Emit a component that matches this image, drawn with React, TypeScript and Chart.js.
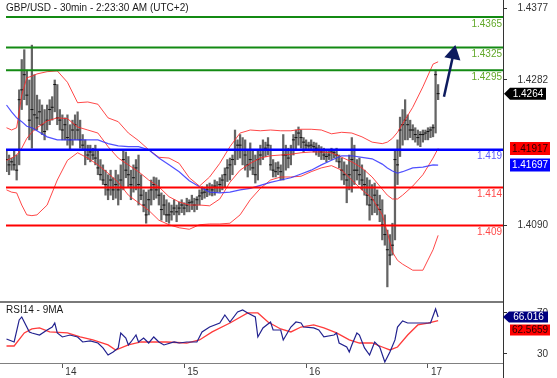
import { useEffect, useRef } from 'react';
import { Chart, registerables } from 'chart.js';

Chart.register(...registerables);

const FONT = '"Liberation Sans", Arial, sans-serif';

const TITLE = 'GBP/USD - 30min - 2:23:30 AM (UTC+2)';
const RSI_TITLE = 'RSI14 - 9MA';

// x axis: 30-minute bar index; day labels at first bar of each day
const dayLabels = ['14', '15', '16', '17'];
const dayStartBars = [22, 70, 118, 166];
const X_MIN = -0.2;
const X_MAX = 195.55;

const priceTicks = [1.4377, 1.4282, 1.409];
const rsiTicks = [30, 70];
const PRICE_MIN = 1.398905;
const PRICE_MAX = 1.438756;
const RSI_MIN = 21.2;
const RSI_MAX = 80.7;

// OHLC bars (high / low / close)
const highs = [
  1.4190, 1.4183, 1.4179, 1.4190, 1.4183, 1.4269, 1.4309, 1.4322, 1.4295, 1.4282,
  1.4328, 1.4289, 1.4262, 1.4256, 1.4249, 1.4243, 1.4249, 1.4256, 1.4260, 1.4282,
  1.4276, 1.4243, 1.4236, 1.4232, 1.4236, 1.4223, 1.4229, 1.4236, 1.4240, 1.4229,
  1.4210, 1.4203, 1.4196, 1.4196, 1.4192, 1.4196, 1.4190, 1.4177, 1.4170, 1.4163,
  1.4157, 1.4163, 1.4153, 1.4163, 1.4157, 1.4170, 1.4190, 1.4187, 1.4181, 1.4163,
  1.4170, 1.4177, 1.4183, 1.4157, 1.4137, 1.4134, 1.4137, 1.4150, 1.4154, 1.4153,
  1.4150, 1.4133, 1.4130, 1.4124, 1.4120, 1.4117, 1.4124, 1.4117, 1.4121, 1.4124,
  1.4120, 1.4126, 1.4124, 1.4130, 1.4126, 1.4128, 1.4137, 1.4141, 1.4140, 1.4144,
  1.4146, 1.4144, 1.4150, 1.4148, 1.4153, 1.4157, 1.4166, 1.4177, 1.4179, 1.4183,
  1.4216, 1.4203, 1.4210, 1.4206, 1.4203, 1.4190, 1.4199, 1.4190, 1.4183, 1.4190,
  1.4196, 1.4203, 1.4200, 1.4206, 1.4196, 1.4177, 1.4173, 1.4174, 1.4170, 1.4210,
  1.4196, 1.4192, 1.4196, 1.4210, 1.4216, 1.4220, 1.4216, 1.4206, 1.4203, 1.4200,
  1.4203, 1.4200, 1.4199, 1.4196, 1.4194, 1.4192, 1.4190, 1.4190, 1.4192, 1.4190,
  1.4192, 1.4183, 1.4179, 1.4174, 1.4170, 1.4183, 1.4206, 1.4196, 1.4177, 1.4179,
  1.4170, 1.4163, 1.4153, 1.4150, 1.4144, 1.4146, 1.4137, 1.4130, 1.4124, 1.4104,
  1.4084, 1.4078, 1.4093, 1.4190, 1.4203, 1.4233, 1.4243, 1.4256, 1.4236, 1.4229,
  1.4223, 1.4219, 1.4216, 1.4214, 1.4216, 1.4216, 1.4219, 1.4220, 1.4223, 1.4295,
  1.4276,
];
const lows = [
  1.4161, 1.4157, 1.4163, 1.4163, 1.4150, 1.4170, 1.4243, 1.4256, 1.4249, 1.4203,
  1.4192, 1.4216, 1.4216, 1.4223, 1.4210, 1.4203, 1.4216, 1.4223, 1.4229, 1.4240,
  1.4223, 1.4216, 1.4203, 1.4203, 1.4196, 1.4190, 1.4196, 1.4203, 1.4203, 1.4192,
  1.4190, 1.4170, 1.4177, 1.4174, 1.4177, 1.4170, 1.4157, 1.4150, 1.4144, 1.4130,
  1.4124, 1.4130, 1.4124, 1.4126, 1.4117, 1.4124, 1.4137, 1.4153, 1.4141, 1.4124,
  1.4134, 1.4137, 1.4117, 1.4124, 1.4108, 1.4093, 1.4104, 1.4117, 1.4124, 1.4126,
  1.4117, 1.4097, 1.4104, 1.4095, 1.4093, 1.4097, 1.4104, 1.4095, 1.4104, 1.4107,
  1.4104, 1.4108, 1.4108, 1.4111, 1.4108, 1.4111, 1.4117, 1.4124, 1.4126, 1.4128,
  1.4130, 1.4129, 1.4130, 1.4134, 1.4134, 1.4137, 1.4141, 1.4148, 1.4150, 1.4157,
  1.4170, 1.4177, 1.4179, 1.4170, 1.4163, 1.4154, 1.4163, 1.4157, 1.4146, 1.4150,
  1.4170, 1.4177, 1.4181, 1.4183, 1.4163, 1.4154, 1.4154, 1.4157, 1.4150, 1.4150,
  1.4163, 1.4166, 1.4170, 1.4183, 1.4190, 1.4196, 1.4192, 1.4187, 1.4190, 1.4190,
  1.4190, 1.4187, 1.4183, 1.4181, 1.4177, 1.4177, 1.4174, 1.4177, 1.4177, 1.4179,
  1.4174, 1.4166, 1.4150, 1.4144, 1.4120, 1.4137, 1.4134, 1.4144, 1.4150, 1.4144,
  1.4137, 1.4130, 1.4117, 1.4097, 1.4104, 1.4107, 1.4104, 1.4095, 1.4071, 1.4064,
  1.4009, 1.4038, 1.4051, 1.4071, 1.4144, 1.4181, 1.4196, 1.4203, 1.4203, 1.4206,
  1.4203, 1.4200, 1.4196, 1.4194, 1.4200, 1.4203, 1.4203, 1.4206, 1.4207, 1.4212,
  1.4256,
];
const closes = [
  1.4177, 1.4170, 1.4174, 1.4170, 1.4163, 1.4256, 1.4269, 1.4289, 1.4262, 1.4229,
  1.4243, 1.4236, 1.4232, 1.4240, 1.4223, 1.4214, 1.4229, 1.4243, 1.4246, 1.4276,
  1.4232, 1.4229, 1.4216, 1.4223, 1.4206, 1.4203, 1.4216, 1.4223, 1.4216, 1.4203,
  1.4196, 1.4190, 1.4183, 1.4187, 1.4183, 1.4179, 1.4166, 1.4157, 1.4150, 1.4144,
  1.4137, 1.4150, 1.4137, 1.4144, 1.4137, 1.4150, 1.4177, 1.4163, 1.4157, 1.4144,
  1.4153, 1.4166, 1.4144, 1.4130, 1.4117, 1.4104, 1.4124, 1.4137, 1.4144, 1.4137,
  1.4130, 1.4111, 1.4117, 1.4104, 1.4104, 1.4108, 1.4113, 1.4108, 1.4113, 1.4117,
  1.4113, 1.4117, 1.4120, 1.4121, 1.4117, 1.4124, 1.4129, 1.4133, 1.4134, 1.4137,
  1.4140, 1.4137, 1.4142, 1.4140, 1.4144, 1.4150, 1.4157, 1.4166, 1.4170, 1.4177,
  1.4190, 1.4196, 1.4196, 1.4190, 1.4183, 1.4170, 1.4177, 1.4166, 1.4157, 1.4177,
  1.4183, 1.4190, 1.4192, 1.4196, 1.4170, 1.4163, 1.4161, 1.4166, 1.4161, 1.4183,
  1.4183, 1.4179, 1.4190, 1.4203, 1.4206, 1.4212, 1.4206, 1.4200, 1.4196, 1.4195,
  1.4196, 1.4194, 1.4192, 1.4190, 1.4187, 1.4183, 1.4181, 1.4183, 1.4187, 1.4186,
  1.4183, 1.4174, 1.4163, 1.4157, 1.4150, 1.4157, 1.4177, 1.4163, 1.4163, 1.4157,
  1.4150, 1.4144, 1.4130, 1.4117, 1.4124, 1.4130, 1.4117, 1.4111, 1.4091, 1.4078,
  1.4058, 1.4051, 1.4064, 1.4177, 1.4170, 1.4216, 1.4223, 1.4229, 1.4223, 1.4216,
  1.4216, 1.4210, 1.4206, 1.4210, 1.4210, 1.4212, 1.4214, 1.4216, 1.4219, 1.4289,
  1.4264,
];

// Bollinger bands and moving average, sampled at bar indices
const bandIdx = [
  0, 2, 4, 6, 8, 10, 12, 16, 20, 24, 28, 32, 36, 40, 44, 48, 52, 56, 60, 64,
  68, 72, 76, 80, 84, 88, 92, 96, 100, 104, 108, 112, 116, 120, 124, 128, 132, 136, 140, 144,
  148, 150, 152, 154, 156, 160, 164, 168, 170,
];
const bandUpper = [
  1.4219, 1.4216, 1.4219, 1.4262, 1.4285, 1.4287, 1.4290, 1.4293, 1.4294, 1.4279,
  1.4252, 1.4253, 1.4250, 1.4232, 1.4227, 1.4212, 1.4202, 1.4190, 1.4180, 1.4179,
  1.4172, 1.4153, 1.4142, 1.4154, 1.4172, 1.4194, 1.4212, 1.4216, 1.4215, 1.4216,
  1.4215, 1.4215, 1.4217, 1.4217, 1.4216, 1.4211, 1.4213, 1.4212, 1.4207, 1.4200,
  1.4198, 1.4200, 1.4205, 1.4213, 1.4224, 1.4246, 1.4273, 1.4303, 1.4306,
];
const bandMiddle = [
  1.4176, 1.4179, 1.4183, 1.4192, 1.4205, 1.4213, 1.4219, 1.4228, 1.4232, 1.4231,
  1.4220, 1.4216, 1.4212, 1.4194, 1.4179, 1.4170, 1.4161, 1.4150, 1.4141, 1.4128,
  1.4121, 1.4117, 1.4117, 1.4116, 1.4125, 1.4147, 1.4163, 1.4172, 1.4179, 1.4182,
  1.4183, 1.4184, 1.4186, 1.4187, 1.4187, 1.4186, 1.4180, 1.4174, 1.4166, 1.4154,
  1.4138, 1.4130, 1.4125, 1.4125, 1.4130, 1.4142, 1.4157, 1.4179, 1.41917,
];
const bandLower = [
  1.4137, 1.4134, 1.4133, 1.4117, 1.4104, 1.4103, 1.4104, 1.4117, 1.4150, 1.4176,
  1.4186, 1.4179, 1.4170, 1.4159, 1.4147, 1.4130, 1.4120, 1.4110, 1.4097, 1.4091,
  1.4087, 1.4085, 1.4091, 1.4092, 1.4092, 1.4093, 1.4104, 1.4124, 1.4139, 1.4150,
  1.4154, 1.4154, 1.4155, 1.4161, 1.4166, 1.4169, 1.4163, 1.4150, 1.4137, 1.4126,
  1.4104, 1.4081, 1.4055, 1.4044, 1.4039, 1.4031, 1.4031, 1.4058, 1.4077,
];
const maBlue = [
  1.4249, 1.4240, 1.4232, 1.4227, 1.4221, 1.4219, 1.4215, 1.4207, 1.4203, 1.4203,
  1.4203, 1.4203, 1.4203, 1.4198, 1.4195, 1.4194, 1.4194, 1.4190, 1.4179, 1.4170,
  1.4161, 1.4149, 1.4141, 1.4134, 1.4133, 1.4134, 1.4137, 1.4139, 1.4143, 1.4147,
  1.4150, 1.4153, 1.4158, 1.4163, 1.4170, 1.4176, 1.4182, 1.4182, 1.4180, 1.4178,
  1.4171, 1.4166, 1.4162, 1.4159, 1.4161, 1.4166, 1.4167, 1.4170, 1.41697,
];

// RSI(14) and its 9-period MA
const rsiIdx = [
  0, 3, 5, 6, 7, 9, 10, 13, 16, 18, 19, 20, 22, 25, 28, 30, 33, 36, 38, 40,
  42, 44, 45, 47, 48, 49, 51, 52, 54, 56, 58, 60, 62, 66, 68, 71, 75, 77, 80, 84,
  86, 88, 91, 93, 95, 98, 99, 101, 104, 105, 108, 109, 112, 114, 116, 117, 121, 123, 125, 129,
  130, 131, 134, 135, 136, 138, 139, 141, 143, 145, 147, 149, 151, 153, 154, 156, 158, 163, 167, 169,
  170,
];
const rsiValues = [
  44.6, 41.7, 63.2, 66.1, 61.2, 51.5, 50.5, 48.5, 53.4, 56.3, 60.2, 50.5, 46.6, 48.5, 46.6, 41.7, 42.7, 40.7, 35.9, 29.0,
  32.0, 35.9, 50.5, 45.6, 38.8, 41.7, 48.5, 41.7, 45.6, 40.7, 46.6, 41.7, 38.8, 41.7, 40.7, 41.7, 41.7, 51.5, 56.3, 60.2,
  68.0, 61.2, 71.0, 72.9, 70.0, 66.1, 46.6, 55.4, 61.2, 53.4, 53.4, 43.7, 56.3, 61.2, 60.2, 56.3, 55.4, 53.4, 46.6, 48.5,
  50.5, 40.7, 36.8, 32.0, 38.8, 50.5, 48.5, 35.9, 29.0, 41.7, 36.8, 22.2, 32.0, 43.7, 56.3, 62.2, 60.2, 60.2, 60.2, 73.9,
  66.016,
];
const rsiMaIdx = [
  0, 3, 7, 10, 13, 17, 24, 29, 34, 40, 43, 48, 53, 58, 63, 71, 76, 81, 88, 95,
  99, 103, 108, 112, 116, 121, 125, 130, 135, 139, 144, 148, 151, 154, 158, 162, 166, 170,
];
const rsiMaValues = [
  37.8, 37.8, 50.5, 54.4, 55.4, 51.5, 50.5, 46.6, 43.7, 38.8, 33.9, 38.8, 41.7, 41.7, 41.7, 40.7, 43.7, 51.5, 60.2, 70.0,
  70.0, 61.2, 54.4, 51.5, 56.3, 58.3, 55.4, 50.5, 43.7, 40.7, 40.7, 36.8, 33.9, 36.8, 48.5, 58.3, 60.2, 62.5659,
];

// key levels
const resistanceLevels = [1.4365, 1.4325, 1.4295];
const resistanceLabels = ['1.4365', '1.4325', '1.4295'];
const pivotLevel = 1.419;
const pivotLabel = '1.419';
const supportLevels = [1.414, 1.409];
const supportLabels = ['1.414', '1.409'];

// current values shown in the right margin
const lastPrice = 1.4264;
const bandMiddleLast = 1.41917;
const maBlueLast = 1.41697;
const rsiLast = 66.016;
const rsiMaLast = 62.5659;

// projected move arrow
const arrowX = [172.3, 176.0];
const arrowY = [1.426, 1.4316];

const pts = (xs: number[], ys: number[]) => xs.map((x, k) => ({ x, y: ys[k] }));

function drawBox(
  ctx: CanvasRenderingContext2D,
  x0: number,
  x1: number,
  yc: number,
  h: number,
  bg: string,
  fg: string,
  text: string,
  arrow: boolean,
) {
  ctx.fillStyle = bg;
  ctx.beginPath();
  if (arrow) {
    ctx.moveTo(x0, yc);
    ctx.lineTo(x0 + 6, yc - h / 2);
    ctx.lineTo(x1, yc - h / 2);
    ctx.lineTo(x1, yc + h / 2);
    ctx.lineTo(x0 + 6, yc + h / 2);
    ctx.closePath();
  } else {
    ctx.rect(x0, yc - h / 2, x1 - x0, h);
  }
  ctx.fill();
  ctx.fillStyle = fg;
  ctx.textAlign = 'center';
  ctx.textBaseline = 'middle';
  ctx.fillText(text, (x0 + (arrow ? 6 : 0) + x1) / 2, yc + 0.5);
}

const overlayPlugin = {
  id: 'overlay',
  afterDraw(chart: any) {
    const { ctx, chartArea, scales } = chart;
    const y = scales.y;
    const r = scales.rsi;
    ctx.save();
    // pane separator
    ctx.strokeStyle = '#7a7a7a';
    ctx.lineWidth = 2;
    ctx.beginPath();
    ctx.moveTo(0, r.top);
    ctx.lineTo(chartArea.right, r.top);
    ctx.stroke();
    // bottom line extended to the left edge
    ctx.strokeStyle = '#808080';
    ctx.lineWidth = 1;
    ctx.beginPath();
    ctx.moveTo(0, chartArea.bottom + 0.5);
    ctx.lineTo(chartArea.left, chartArea.bottom + 0.5);
    ctx.stroke();
    // right border
    ctx.strokeStyle = '#333';
    ctx.lineWidth = 1;
    ctx.beginPath();
    ctx.moveTo(chartArea.right + 0.5, 0);
    ctx.lineTo(chartArea.right + 0.5, chart.height);
    ctx.stroke();

    ctx.font = `10px ${FONT}`;
    ctx.textBaseline = 'middle';
    ctx.textAlign = 'left';
    ctx.fillStyle = '#1a1a1a';
    ctx.fillText(TITLE, 6, 8);
    ctx.fillText(RSI_TITLE, 6, r.top + 8);

    // level labels
    ctx.textAlign = 'right';
    const rx = chartArea.right - 1;
    resistanceLevels.forEach((v, k) => {
      ctx.fillStyle = '#62a829';
      ctx.fillText(resistanceLabels[k], rx, y.getPixelForValue(v) + 7);
    });
    ctx.fillStyle = '#5c5cff';
    ctx.fillText(pivotLabel, rx, y.getPixelForValue(pivotLevel) + 7);
    supportLevels.forEach((v, k) => {
      ctx.fillStyle = '#ff4a4a';
      ctx.fillText(supportLabels[k], rx, y.getPixelForValue(v) + 7);
    });

    // value boxes
    const bx = chartArea.right;
    drawBox(ctx, bx + 1, bx + 43, y.getPixelForValue(lastPrice), 12, '#000', '#fff', lastPrice.toFixed(4), true);
    drawBox(ctx, bx + 7, bx + 47, y.getPixelForValue(bandMiddleLast), 13, '#ff0000', '#2a0000', bandMiddleLast.toFixed(5), false);
    drawBox(ctx, bx + 7, bx + 47, y.getPixelForValue(maBlueLast), 13, '#0000ff', '#fff', maBlueLast.toFixed(5), false);
    const ry = r.getPixelForValue(rsiLast);
    drawBox(ctx, bx, bx + 45, ry, 11, '#000080', '#fff', rsiLast.toFixed(3), true);
    const rmy = Math.max(r.getPixelForValue(rsiMaLast), ry + 5.5 + 2 + 5.5);
    drawBox(ctx, bx + 7, bx + 47, rmy, 11, '#ff0000', '#2a0000', rsiMaLast.toFixed(4), false);
    ctx.restore();
  },
};

export default function App() {
  const ref = useRef<HTMLCanvasElement>(null);
  useEffect(() => {
    document.body.style.margin = '0';
    const levelLine = (v: number, color: string, w: number) => ({
      type: 'line',
      data: [
        { x: X_MIN, y: v },
        { x: X_MAX, y: v },
      ],
      borderColor: color,
      borderWidth: w,
      pointRadius: 0,
      yAxisID: 'y',
      order: 1,
    });
    const thinLine = (data: any[], color: string, w: number, axis: string, order: number) => ({
      type: 'line',
      data,
      borderColor: color,
      borderWidth: w,
      pointRadius: 0,
      tension: 0,
      yAxisID: axis,
      order,
    });
    const chart = new Chart(ref.current as HTMLCanvasElement, {
      type: 'bar',
      data: {
        datasets: [
          {
            type: 'line',
            data: pts(arrowX, arrowY),
            borderColor: '#0d1b5e',
            borderWidth: 2.5,
            pointRadius: [0, 7],
            pointStyle: 'triangle',
            pointRotation: 12,
            pointBackgroundColor: '#0d1b5e',
            pointBorderColor: '#0d1b5e',
            yAxisID: 'y',
            order: 0,
          },
          ...resistanceLevels.map((v) => levelLine(v, '#138a13', 2)),
          levelLine(pivotLevel, '#0000ff', 2.5),
          ...supportLevels.map((v) => levelLine(v, '#ff0000', 2)),
          thinLine(pts(bandIdx, maBlue), 'rgba(50,50,255,0.85)', 1.2, 'y', 2),
          thinLine(pts(bandIdx, bandUpper), 'rgba(255,40,40,0.85)', 1, 'y', 3),
          thinLine(pts(bandIdx, bandMiddle), 'rgba(255,40,40,0.85)', 1, 'y', 3),
          thinLine(pts(bandIdx, bandLower), 'rgba(255,40,40,0.85)', 1, 'y', 3),
          {
            type: 'line',
            data: closes.map((c, i) => ({ x: i, y: c })),
            showLine: false,
            pointStyle: 'line',
            pointRadius: 1.5,
            pointBorderWidth: 1,
            pointBorderColor: '#111',
            pointBackgroundColor: '#111',
            yAxisID: 'y',
            order: 5,
          },
          {
            type: 'bar',
            data: highs.map((h, i) => ({ x: i, y: [lows[i], h] })),
            backgroundColor: '#646464',
            barThickness: 1.6,
            yAxisID: 'y',
            order: 6,
          },
          thinLine(pts(rsiIdx, rsiValues), '#22228f', 1.2, 'rsi', 1),
          thinLine(pts(rsiMaIdx, rsiMaValues), '#ff3b3b', 1.3, 'rsi', 2),
        ] as any,
      },
      options: {
        animation: false,
        responsive: false,
        devicePixelRatio: 1,
        layout: { autoPadding: false, padding: { left: 6, right: 9, top: 0, bottom: 0 } },
        plugins: { legend: { display: false }, tooltip: { enabled: false } },
        scales: {
          x: {
            type: 'linear',
            min: X_MIN,
            max: X_MAX,
            offset: false,
            grid: { drawOnChartArea: false, drawTicks: true, tickLength: 5, color: '#555', offset: false },
            border: { display: true, color: '#808080', width: 1 },
            ticks: {
              autoSkip: false,
              maxRotation: 0,
              align: 'start',
              labelOffset: 3,
              padding: -2,
              color: '#333',
              font: { size: 10, family: FONT },
              callback: (v: any) => {
                const k = dayStartBars.indexOf(Number(v));
                return k >= 0 ? dayLabels[k] : '';
              },
            },
            afterBuildTicks: (s: any) => {
              s.ticks = dayStartBars.map((v) => ({ value: v }));
            },
            afterFit: (s: any) => {
              s.height = 15;
              s.paddingLeft = 0;
              s.paddingRight = 0;
            },
          },
          y: {
            type: 'linear',
            position: 'right',
            stack: 'pane',
            stackWeight: 302,
            min: PRICE_MIN,
            max: PRICE_MAX,
            grid: { drawOnChartArea: false, tickLength: 4, color: '#333' },
            border: { color: '#333', width: 1 },
            ticks: {
              crossAlign: 'far',
              padding: 10,
              color: '#333',
              font: { size: 10, family: FONT },
              callback: (v: any) => Number(v).toFixed(4),
            },
            afterBuildTicks: (s: any) => {
              s.ticks = priceTicks.map((v) => ({ value: v }));
            },
            afterFit: (s: any) => {
              s.width = 45;
              s.paddingTop = 0;
              s.paddingBottom = 0;
            },
          },
          rsi: {
            type: 'linear',
            position: 'right',
            stack: 'pane',
            stackWeight: 61,
            min: RSI_MIN,
            max: RSI_MAX,
            grid: { drawOnChartArea: false, tickLength: 4, color: '#333' },
            border: { color: '#333', width: 1 },
            ticks: {
              crossAlign: 'far',
              padding: 30,
              color: '#333',
              font: { size: 10, family: FONT },
              callback: (v: any) => String(v),
            },
            afterBuildTicks: (s: any) => {
              s.ticks = rsiTicks.map((v) => ({ value: v }));
            },
            afterFit: (s: any) => {
              s.width = 45;
              s.paddingTop = 0;
              s.paddingBottom = 0;
            },
          },
        },
      } as any,
      plugins: [overlayPlugin],
    });
    return () => chart.destroy();
  }, []);
  return (
    <div style={{ width: 557, height: 378, position: 'relative' }}>
      <canvas ref={ref} width={557} height={378} style={{ display: 'block' }} />
    </div>
  );
}
